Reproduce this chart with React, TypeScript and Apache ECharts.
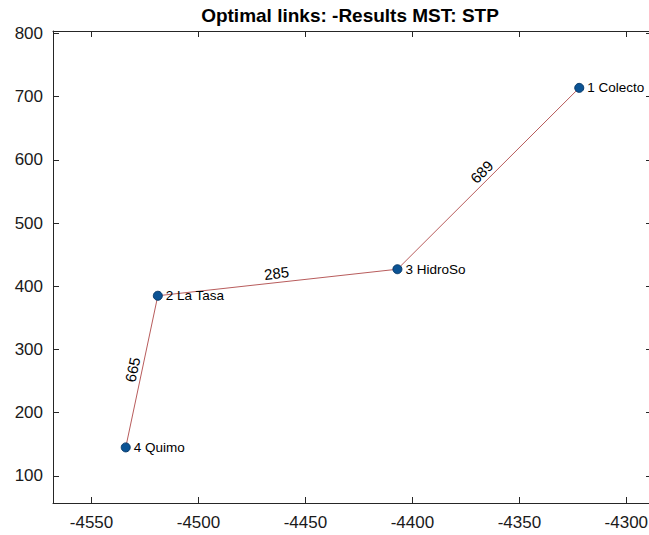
import React, { useEffect, useRef } from "react";
import * as echarts from "echarts";

const titleText = "Optimal links: -Results MST: STP";
const nodeNames = ["1 Colecto", "2 La Tasa", "3 HidroSo", "4 Quimo"];
const nodeX = [-4322, -4519, -4407, -4534];
const nodeY = [714, 385, 427, 145];
const edgeFrom = [3, 2, 4];
const edgeTo = [1, 3, 2];
const edgeCost = [689, 285, 665];
const xTicks = [-4550, -4500, -4450, -4400, -4350, -4300];
const yTicks = [100, 200, 300, 400, 500, 600, 700, 800];
const xMin = -4568;
const xMax = -4288;
const yMin = 57;
const yMax = 804;

const FONT = "'Liberation Sans', Arial, Helvetica, sans-serif";
const AXIS = "#262626";

export default function App() {
  const ref = useRef<HTMLDivElement>(null);
  useEffect(() => {
    if (!ref.current) return;
    const chart = echarts.init(ref.current, undefined, { renderer: "svg" });
    const nodes = nodeNames.map((n, i) => ({ name: n, value: [nodeX[i], nodeY[i]] }));
    const edges = edgeCost.map((c, i) => {
      const a = edgeFrom[i] - 1;
      const b = edgeTo[i] - 1;
      return [nodeX[a], nodeY[a], nodeX[b], nodeY[b], c];
    });
    const plain = (v: number) => String(v);
    const axisCommon = {
      min: xMin,
      max: xMax,
      splitLine: { show: false },
    };
    chart.setOption({
      animation: false,
      grid: { left: 53, top: 31, right: 8, bottom: 32, containLabel: false },
      graphic: [
        {
          type: "text",
          x: 350,
          y: 15,
          style: {
            text: titleText,
            font: `bold 19px ${FONT}`,
            fill: "#000",
            align: "center",
            verticalAlign: "middle",
          },
        },
      ],
      xAxis: [
        {
          type: "value",
          position: "bottom",
          ...axisCommon,
          axisLine: { show: true, onZero: false, lineStyle: { color: AXIS, width: 1 } },
          axisTick: { show: true, inside: true, length: 6, customValues: xTicks, lineStyle: { color: AXIS } },
          axisLabel: {
            customValues: xTicks,
            formatter: plain,
            margin: 11,
            fontSize: 17,
            fontFamily: FONT,
            color: "#1a1a1a",
          },
        },
        {
          type: "value",
          position: "top",
          ...axisCommon,
          axisLine: { show: true, onZero: false, lineStyle: { color: AXIS, width: 1 } },
          axisTick: { show: true, inside: true, length: 6, customValues: xTicks, lineStyle: { color: AXIS } },
          axisLabel: { show: false },
        },
      ],
      yAxis: [
        {
          type: "value",
          position: "left",
          min: yMin,
          max: yMax,
          splitLine: { show: false },
          axisLine: { show: true, onZero: false, lineStyle: { color: AXIS, width: 1 } },
          axisTick: { show: true, inside: true, length: 6, customValues: yTicks, lineStyle: { color: AXIS } },
          axisLabel: {
            customValues: yTicks,
            formatter: plain,
            margin: 10,
            fontSize: 17,
            fontFamily: FONT,
            color: "#1a1a1a",
          },
        },
        {
          type: "value",
          position: "right",
          min: yMin,
          max: yMax,
          splitLine: { show: false },
          axisLine: { show: true, onZero: false, lineStyle: { color: AXIS, width: 1 } },
          axisTick: { show: true, inside: true, length: 6, customValues: yTicks, lineStyle: { color: AXIS } },
          axisLabel: { show: false },
        },
      ],
      series: [
        {
          type: "custom",
          xAxisIndex: 0,
          yAxisIndex: 0,
          data: edges,
          z: 2,
          renderItem: (params: any, api: any) => {
            const p1 = api.coord([api.value(0), api.value(1)]);
            const p2 = api.coord([api.value(2), api.value(3)]);
            const cost = api.value(4);
            const dx = p2[0] - p1[0];
            const dy = p2[1] - p1[1];
            let theta = Math.atan2(-dy, dx);
            if (theta > Math.PI / 2) theta -= Math.PI;
            if (theta <= -Math.PI / 2) theta += Math.PI;
            const mx = (p1[0] + p2[0]) / 2;
            const my = (p1[1] + p2[1]) / 2;
            const off = 9.5;
            const ux = -Math.sin(theta);
            const uy = -Math.cos(theta);
            return {
              type: "group",
              children: [
                {
                  type: "line",
                  shape: { x1: p1[0], y1: p1[1], x2: p2[0], y2: p2[1] },
                  style: { stroke: "#b85c5c", lineWidth: 1 },
                },
                {
                  type: "text",
                  x: mx + ux * off,
                  y: my + uy * off,
                  rotation: theta,
                  style: {
                    text: String(cost),
                    font: `15px ${FONT}`,
                    fill: "#000",
                    align: "center",
                    verticalAlign: "middle",
                  },
                },
              ],
            };
          },
        },
        {
          type: "scatter",
          xAxisIndex: 0,
          yAxisIndex: 0,
          z: 5,
          symbol: "circle",
          symbolSize: 9,
          itemStyle: { color: "#0b5394", borderColor: "#083a6a", borderWidth: 1, opacity: 1 },
          label: {
            show: true,
            position: "right",
            distance: 3,
            formatter: (p: any) => p.name,
            fontSize: 13.5,
            fontFamily: FONT,
            color: "#000",
          },
          data: nodes,
        },
      ],
    });
    return () => chart.dispose();
  }, []);
  return (
    <div
      style={{
        position: "fixed",
        left: 0,
        top: 0,
        width: 649,
        height: 535,
        overflow: "hidden",
        background: "#fff",
      }}
    >
      <div ref={ref} style={{ width: 660, height: 535 }} />
    </div>
  );
}
